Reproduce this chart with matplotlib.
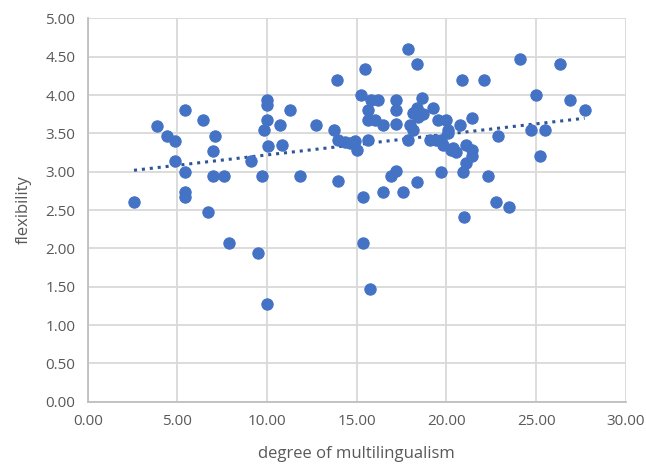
import matplotlib
matplotlib.use('Agg')
import matplotlib.pyplot as plt
import numpy as np

# degree of multilingualism vs flexibility
multilingualism = [
    2.58, 3.84, 4.43, 4.85, 4.85, 5.44, 5.44, 5.44, 5.44, 6.44,
    7.07, 6.96, 6.96, 7.59, 6.70, 7.85, 9.47, 9.97, 9.10, 9.71,
    9.97, 10.00, 9.97, 9.82, 10.06, 10.71, 10.84, 11.30, 11.83, 12.72,
    13.74, 13.92, 13.96, 13.96, 14.33, 14.60, 14.90, 15.00, 15.21, 15.47,
    15.35, 15.35, 15.73, 15.60, 15.80, 16.20, 15.60, 15.60, 16.00, 16.47,
    17.16, 17.16, 17.16, 16.47, 16.93, 17.21, 17.58, 17.86, 18.33, 17.86,
    17.96, 18.14, 18.14, 18.33, 18.42, 18.61, 19.25, 18.33, 19.07, 19.44,
    19.72, 19.53, 20.00, 19.80, 20.37, 20.10, 20.10, 19.72, 20.28, 20.55,
    20.74, 21.40, 21.10, 21.40, 21.40, 21.10, 20.92, 20.96, 20.84, 22.10,
    22.88, 22.32, 22.75, 23.47, 24.08, 24.97, 24.73, 25.48, 25.20, 26.35,
    26.87, 27.70, 18.70,
]
flexibility = [
    2.61, 3.60, 3.47, 3.40, 3.14, 3.80, 3.00, 2.74, 2.67, 3.67,
    3.47, 3.27, 2.94, 2.94, 2.47, 2.07, 1.94, 1.27, 3.14, 2.94,
    3.94, 3.87, 3.67, 3.54, 3.34, 3.61, 3.35, 3.80, 2.94, 3.61,
    3.54, 4.20, 3.41, 2.88, 3.39, 3.37, 3.40, 3.28, 4.00, 4.34,
    2.67, 2.07, 1.47, 3.41, 3.94, 3.94, 3.81, 3.67, 3.67, 3.61,
    3.94, 3.81, 3.62, 2.74, 2.94, 3.01, 2.74, 4.60, 4.40, 3.41,
    3.61, 3.54, 3.76, 3.83, 3.72, 3.96, 3.83, 2.87, 3.42, 3.42,
    3.42, 3.67, 3.67, 3.35, 3.31, 3.54, 3.50, 3.00, 3.28, 3.26,
    3.61, 3.70, 3.35, 3.28, 3.20, 3.12, 3.00, 2.41, 4.20, 4.20,
    3.47, 2.94, 2.61, 2.54, 4.47, 4.00, 3.54, 3.54, 3.20, 4.40,
    3.93, 3.80, 3.75,
]

blue = '#4472C4'
grey = '#595959'

plt.rcParams['font.family'] = ['Open Sans', 'DejaVu Sans']

fig = plt.figure(figsize=(6.46, 4.66), dpi=100)
ax = fig.add_axes([0.1358, 0.138, 0.833, 0.8225])

x = np.array(multilingualism)
y = np.array(flexibility)
ax.scatter(x, y, s=66, color=blue, edgecolors=blue, linewidths=0.8, zorder=3)

# linear trendline
slope, intercept = np.polyfit(x, y, 1)
tx = np.array([x.min(), x.max()])
ax.plot(tx, slope * tx + intercept, linestyle=(0, (1, 1.6)), color='#2F5597', lw=2.2, zorder=2)

ax.set_xlim(0, 30)
ax.set_ylim(0, 5)
ax.set_xticks(np.arange(0, 30.1, 5))
ax.set_yticks(np.arange(0, 5.01, 0.5))
ax.xaxis.set_major_formatter(matplotlib.ticker.FormatStrFormatter('%.2f'))
ax.yaxis.set_major_formatter(matplotlib.ticker.FormatStrFormatter('%.2f'))
ax.grid(True, color='#D9D9D9', lw=1.3)
ax.set_axisbelow(True)
for s in ['top', 'right']:
    ax.spines[s].set_visible(False)
for s in ['left', 'bottom']:
    ax.spines[s].set_color('#BFBFBF')
    ax.spines[s].set_linewidth(1.3)
ax.tick_params(length=0, labelsize=11, labelcolor=grey, pad=9)

ax.set_xlabel('degree of multilingualism', fontsize=12, color=grey, labelpad=12)
ax.set_ylabel('flexibility', fontsize=12, color=grey, labelpad=10)

fig.savefig('out.png', dpi=100)
